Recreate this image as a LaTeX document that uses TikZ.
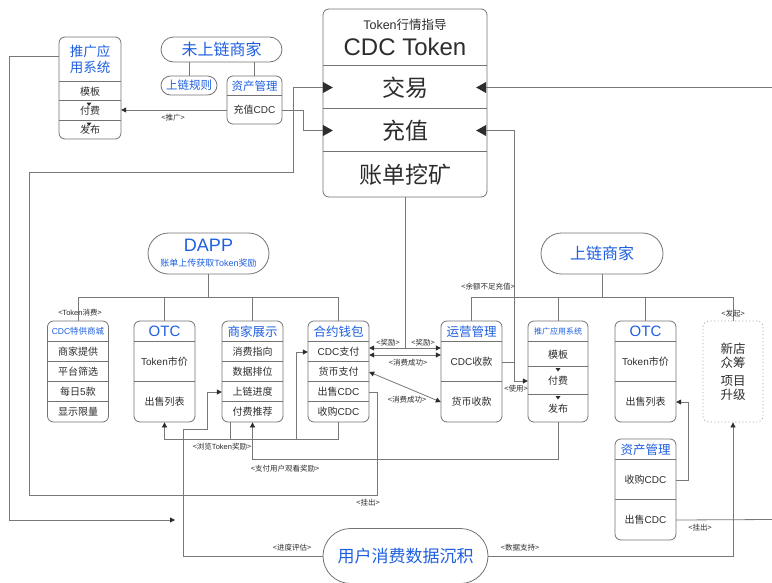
\documentclass[tikz,border=0pt]{standalone}
\usepackage{fontspec}
\setmainfont{Noto Sans CJK SC}
\newfontfamily\lat{Liberation Sans}
\usetikzlibrary{arrows.meta,shapes.misc}
\definecolor{bl}{RGB}{30,95,225}
\definecolor{tx}{RGB}{45,45,45}
\definecolor{ln}{RGB}{120,120,120}
\definecolor{bd}{RGB}{115,115,115}
\newcommand\fsz[2]{\fontsize{#1}{#2}\selectfont}
\tikzset{
 box/.style={draw=bd, line width=0.8pt, rounded corners=6pt, inner sep=0pt},
 pill/.style={draw=bd, line width=0.8pt, rounded rectangle, inner sep=0pt, text=bl},
 cell/.style={inner sep=0pt, text=tx, font=\fsz{10}{12}},
 ttl/.style={inner sep=0pt, text=bl},
 div/.style={draw=bd, line width=0.8pt},
 con/.style={draw=ln, line width=0.8pt},
 arr/.style={con, -{Triangle[length=5pt,width=5pt,color=tx]}},
 darr/.style={con, {Triangle[length=5pt,width=5pt,color=tx]}-{Triangle[length=5pt,width=5pt,color=tx]}},
 bigarr/.style={con, -{Triangle[length=10pt,width=11pt,color=tx]}, shorten >=-10pt},
 lbl/.style={inner sep=0pt, text=tx, font=\fsz{7.5}{9}},
}
% four-row box: name, cx, title, r1..r4
\newcommand\fourbox[7]{%
 \node[box, minimum width=61pt, minimum height=101pt] (#1) at (#2,371.5) {};
 \node[ttl, minimum width=61pt, minimum height=21pt] (#1t) at (#2,331.5) {#3};
 \node[cell, minimum width=61pt, minimum height=20pt] (#1a) at (#2,352) {#4};
 \node[cell, minimum width=61pt, minimum height=20pt] (#1b) at (#2,372) {#5};
 \node[cell, minimum width=61pt, minimum height=20pt] (#1c) at (#2,392) {#6};
 \node[cell, minimum width=61pt, minimum height=20pt] (#1d) at (#2,412) {#7};
 \draw[div] (#1a.north west) -- (#1a.north east) (#1b.north west) -- (#1b.north east)
   (#1c.north west) -- (#1c.north east) (#1d.north west) -- (#1d.north east);
}
% two-row box: name, cx, top, title, r1, r2
\newcommand\twobox[6]{%
 \node[box, minimum width=61pt, minimum height=101pt] (#1) at (#2,#3+50.5) {};
 \node[ttl, minimum width=61pt, minimum height=21pt] (#1t) at (#2,#3+10.5) {#4};
 \node[cell, minimum width=61pt, minimum height=40pt] (#1a) at (#2,#3+41) {#5};
 \node[cell, minimum width=61pt, minimum height=40pt] (#1b) at (#2,#3+81) {#6};
 \draw[div] (#1a.north west) -- (#1a.north east) (#1b.north west) -- (#1b.north east);
}
\begin{document}
\begin{tikzpicture}[x=1pt,y=-1pt]
\useasboundingbox (0,0) rectangle (772,582);
\fill[white] (0,0) rectangle (772,582);

% ---------- CDC Token ----------
\node[box, minimum width=164pt, minimum height=188pt] (cdc) at (405,103) {};
\node[inner sep=0pt, text=tx, font=\fsz{12.5}{14}] (cdcsub) at (405,25) {{\lat Token}行情指导};
\node[inner sep=0pt, text=tx, font=\fsz{24}{26}\lat] (cdct) at (405,47) {CDC Token};
\node[cell, minimum width=164pt, minimum height=43pt, font=\fsz{23}{26}] (jy) at (405,87.5) {交易};
\node[cell, minimum width=164pt, minimum height=43pt, font=\fsz{23}{26}] (cz) at (405,130.5) {充值};
\node[cell, minimum width=164pt, minimum height=45pt, font=\fsz{23}{26}] (zd) at (405,174.5) {账单挖矿};
\draw[div] (jy.north west) -- (jy.north east) (cz.north west) -- (cz.north east) (zd.north west) -- (zd.north east);

% ---------- left promo system ----------
\node[box, minimum width=62pt, minimum height=102pt] (lp) at (90,88) {};
\node[ttl, minimum width=62pt, minimum height=45pt, align=center, font=\fsz{13.5}{16}] (lpt) at (90,59.5) {推广应\\用系统};
\node[cell, minimum width=62pt, minimum height=19pt] (ltpl) at (90,91.5) {模板};
\node[cell, minimum width=62pt, minimum height=20pt] (lfee) at (90,111) {付费};
\node[cell, minimum width=62pt, minimum height=18pt] (lpub) at (90,130) {发布};
\draw[div] (ltpl.north west) -- (ltpl.north east) (lfee.north west) -- (lfee.north east) (lpub.north west) -- (lpub.north east);
\fill[tx] (86.5,102.5) -- (91.5,102.5) -- (89,106) -- cycle;
\fill[tx] (86.5,122.5) -- (91.5,122.5) -- (89,126) -- cycle;

% ---------- not-on-chain merchant ----------
\node[pill, minimum width=121pt, minimum height=25pt, font=\fsz{16}{18}] (wl) at (221.5,49.5) {未上链商家};
\node[pill, minimum width=56pt, minimum height=19pt, font=\fsz{11.5}{13}] (rule) at (189,85.5) {上链规则};
\node[box, minimum width=55pt, minimum height=48pt] (as1) at (254.5,100) {};
\node[ttl, minimum width=55pt, minimum height=20pt, font=\fsz{11.5}{13}] (as1t) at (254.5,86) {资产管理};
\node[cell, minimum width=55pt, minimum height=28pt] (zc) at (254.5,110) {充值{\lat CDC}};
\draw[div] (zc.north west) -- (zc.north east);
\draw[con] (rule.north) -- (rule.north |- wl.south);
\draw[con] (as1.north) -- (as1.north |- wl.south);

% ---------- DAPP ----------
\node[pill, minimum width=121pt, minimum height=41pt] (dapp) at (208.5,253.5) {};
\node[ttl, font=\fsz{18}{20}\lat] (dappa) at (208.5,245.5) {DAPP};
\node[ttl, font=\fsz{9}{11}] (dappb) at (208.5,263.5) {账单上传获取{\lat Token}奖励};

\fourbox{mall}{78}{{\fsz{8.5}{10}{\lat CDC}特供商城}}{商家提供}{平台筛选}{每日{\lat 5}款}{显示限量}
\twobox{lotc}{164.5}{321}{{\fsz{15}{17}\lat OTC}}{{\lat Token}市价}{出售列表}
\fourbox{show}{252.5}{{\fsz{12.5}{14}商家展示}}{消费指向}{数据排位}{上链进度}{付费推荐}
\fourbox{wal}{338.5}{{\fsz{12.5}{14}合约钱包}}{{\lat CDC}支付}{货币支付}{出售{\lat CDC}}{收购{\lat CDC}}

\draw[con] (dapp.south) -- (dapp.south |- 0,297);
\draw[con] (mall.north) -- (mall.north |- 0,297) -- (wal.north |- 0,297) -- (wal.north);
\draw[con] (lotc.north) -- (lotc.north |- 0,297);
\draw[con] (show.north) -- (show.north |- 0,297);
\node[lbl] at (80,313) {<{\lat Token}消费>};

% ---------- on-chain merchant ----------
\node[pill, minimum width=122pt, minimum height=41pt, font=\fsz{16}{18}] (sl) at (602,253.5) {上链商家};
\twobox{ops}{471.5}{321}{{\fsz{12.5}{14}运营管理}}{{\lat CDC}收款}{货币收款}
\node[box, minimum width=60pt, minimum height=101pt] (rp) at (558,371.5) {};
\node[ttl, minimum width=60pt, minimum height=21pt, font=\fsz{8}{10}] (rpt) at (558,331.5) {推广应用系统};
\node[cell, minimum width=60pt, minimum height=25pt] (rpa) at (558,354.5) {模板};
\node[cell, minimum width=60pt, minimum height=28pt] (rpb) at (558,381) {付费};
\node[cell, minimum width=60pt, minimum height=27pt] (rpc) at (558,408.5) {发布};
\draw[div] (rpa.north west) -- (rpa.north east) (rpb.north west) -- (rpb.north east) (rpc.north west) -- (rpc.north east);
\fill[tx] (555.5,368) -- (560.5,368) -- (558,371.5) -- cycle;
\fill[tx] (555.5,396) -- (560.5,396) -- (558,399.5) -- cycle;
\twobox{rotc}{645.5}{321}{{\fsz{15}{17}\lat OTC}}{{\lat Token}市价}{出售列表}
\node[box, draw=gray!75, dash pattern=on 1pt off 2.5pt, minimum width=60pt, minimum height=101pt, align=center, font=\fsz{12.5}{14}, text=tx] (newb) at (733,371.5) {新店\\众筹\\[4pt]项目\\升级};

\draw[con] (sl.south) -- (sl.south |- 0,297);
\draw[con] (ops.north) -- (ops.north |- 0,297) -- (newb.north |- 0,297) -- (newb.north);
\draw[con] (rp.north) -- (rp.north |- 0,297);
\draw[con] (rotc.north) -- (rotc.north |- 0,297);
\node[lbl] at (733,314) {<发起>};

% ---------- bottom asset mgmt & user data ----------
\twobox{as2}{645.5}{439}{{\fsz{12.5}{14}资产管理}}{收购{\lat CDC}}{出售{\lat CDC}}
\node[pill, minimum width=165pt, minimum height=55pt, font=\fsz{17}{19}] (user) at (405.5,556) {用户消费数据沉积};

% ---------- connectors ----------
% sell CDC (wallet) -> trade
\draw[bigarr] (walc.east) -| (377,495) -- (29,495) -- (29,172) -- (293,172) |- (jy.west);
\node[lbl] at (368,503) {<挂出>};
% recharge CDC -> recharge
\draw[bigarr] (zc.east) -- (303,110) |- (cz.west);
% promote
\draw[arr] (zc.west) -- (zc.west -| lfee.east);
\node[lbl] at (173,118) {<推广>};
% right edge -> trade
\coordinate (redge) at (772,87.5);
\draw[bigarr, shorten >=-11pt] (redge) -- (jy.east);
% asset sell -> right edge
\coordinate (redge2) at (772,519.5);
\draw[con] (as2b.east) -- (redge2);
\node[lbl] at (700,528) {<挂出>};
% rewards
\coordinate (jA) at (405,348);
\draw[con] (zd.south) -- (jA);
\draw[arr] (jA) -- (jA -| wala.east);
\draw[arr] (jA) -- (jA -| opsa.west);
\node[lbl] at (388,343) {<奖励>};
\node[lbl] at (423,343) {<奖励>};
% consumption success
\draw[darr] ([yshift=-3pt]wala.east) -- ([yshift=-3pt]wala.east -| opsa.west);
\node[lbl] at (408,363) {<消费成功>};
\draw[darr] (walb.east) -- (opsb.west);
\node[lbl] at (407,400) {<消费成功>};
% use / recharge when balance insufficient
\coordinate (jB) at (514,362);
\draw[con] (opsa.east) -- (jB);
\draw[arr] (jB) |- (rpb.west);
\draw[bigarr, shorten >=-11pt] (jB) |- (cz.east);
\node[lbl] at (516,389) {<使用>};
\node[lbl] at (488,287) {<余额不足充值>};
% browse token reward
\coordinate (k1) at (164.5,439);
\draw[arr] (wal.south) |- (k1) -- (lotc.south);
\draw[con] (show.south -| 230,0) -- (230,439);
\draw[arr] (296,439) |- (wala.west);
\node[lbl] at (222,447) {<浏览{\lat Token}奖励>};
% pay user viewing reward
\draw[arr] (rp.south) -- (rp.south |- 0,459) -| (show.south);
\node[lbl] at (285,469) {<支付用户观看奖励>};
% progress evaluation
\draw[arr] (user.west) -| (183,429) -| (207,392) -- (showc.west);
\node[lbl] at (292,548) {<进度评估>};
% data support
\draw[arr] (user.east) -| (newb.south);
\node[lbl] at (520,548) {<数据支持>};
% left promo system line
\coordinate (lend) at (175,520);
\draw[arr] ([yshift=3.5pt]lpt.west) -| (9,520) -- (lend);
% buy CDC -> OTC sell list
\draw[arr] (as2a.east) -- ++(12,0) |- (rotcb.east);
\end{tikzpicture}
\end{document}
